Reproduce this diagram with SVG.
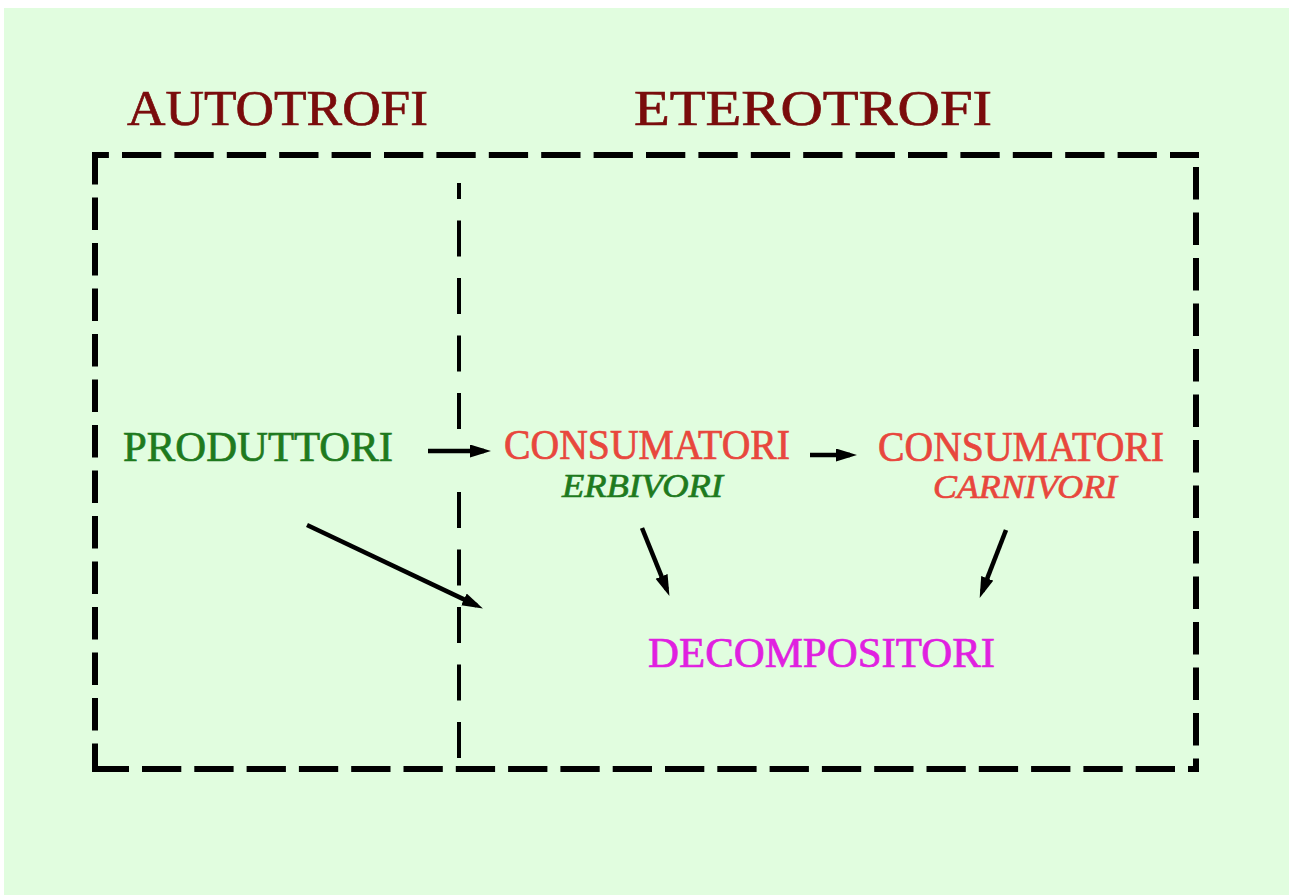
<svg xmlns="http://www.w3.org/2000/svg" width="1289" height="895" viewBox="0 0 1289 895">
  <defs>
    <marker id="ah" markerUnits="userSpaceOnUse" markerWidth="24" markerHeight="14" refX="14" refY="6.5" orient="auto">
      <path d="M0,0 L21,6.5 L0,13 Z" fill="#000"/>
    </marker>
    <style>
      .frame { stroke:#000; stroke-width:6; fill:none; stroke-linecap:butt; }
      .inner { stroke:#000; stroke-width:4; fill:none; stroke-dasharray:36 21.5; }
      .arrow { stroke:#000; stroke-width:4.5; fill:none; marker-end:url(#ah); }
      .t { font-family:"Liberation Serif","Times New Roman",serif; stroke-width:0.7; }
      .head { font-size:50px; fill:#7A0C0C; stroke:#7A0C0C; }
      .node { font-size:42px; }
      .sub { font-size:33px; font-style:italic; }
      .green { fill:#1E7A1E; stroke:#1E7A1E; }
      .red { fill:#E8473D; stroke:#E8473D; }
      .mag { fill:#E020E0; stroke:#E020E0; }
    </style>
  </defs>
  <rect x="0" y="0" width="1289" height="895" fill="#FFFFFF"/>
  <rect x="4" y="8" width="1285" height="887" fill="#E1FDDF"/>

  <g id="frame">
    <line class="frame" x1="92" y1="155" x2="1199" y2="155" stroke-dasharray="39.3 13.1" stroke-dashoffset="22.4"/>
    <line class="frame" x1="92" y1="769" x2="1199" y2="769" stroke-dasharray="39.3 13" stroke-dashoffset="2.3"/>
    <line class="frame" x1="95" y1="152" x2="95" y2="772" stroke-dasharray="32.5 13"/>
    <line class="frame" x1="1196" y1="152" x2="1196" y2="772" stroke-dasharray="32.5 13" stroke-dashoffset="30.5"/>
  </g>
  <g id="divider">
    <line class="inner" x1="459" y1="429" x2="459" y2="183"/>
    <line class="inner" x1="459" y1="492" x2="459" y2="770"/>
  </g>

  <g id="autotrofi"><text class="t head" x="127" y="125" textLength="301" lengthAdjust="spacingAndGlyphs">AUTOTROFI</text></g>
  <g id="eterotrofi"><text class="t head" x="634" y="125" textLength="358" lengthAdjust="spacingAndGlyphs">ETEROTROFI</text></g>

  <g id="produttori"><text class="t node green" x="123" y="461" textLength="270" lengthAdjust="spacingAndGlyphs">PRODUTTORI</text></g>
  <g id="erbivori">
    <text class="t node red" x="504" y="459" textLength="286" lengthAdjust="spacingAndGlyphs">CONSUMATORI</text>
    <text class="t sub green" x="562" y="497" textLength="161" lengthAdjust="spacingAndGlyphs">ERBIVORI</text>
  </g>
  <g id="carnivori">
    <text class="t node red" x="878" y="461" textLength="286" lengthAdjust="spacingAndGlyphs">CONSUMATORI</text>
    <text class="t sub red" x="933" y="498" textLength="184" lengthAdjust="spacingAndGlyphs">CARNIVORI</text>
  </g>
  <g id="decompositori"><text class="t node mag" x="648" y="667" textLength="347" lengthAdjust="spacingAndGlyphs">DECOMPOSITORI</text></g>

  <g id="connectors">
    <line class="arrow" x1="428" y1="451" x2="484" y2="451"/>
    <line class="arrow" x1="810" y1="455" x2="850" y2="455"/>
    <line class="arrow" x1="307" y1="525" x2="476.6" y2="605.4"/>
    <line class="arrow" x1="642" y1="528" x2="666.8" y2="589.4"/>
    <line class="arrow" x1="1006" y1="530" x2="982.2" y2="591.4"/>
  </g>
</svg>
